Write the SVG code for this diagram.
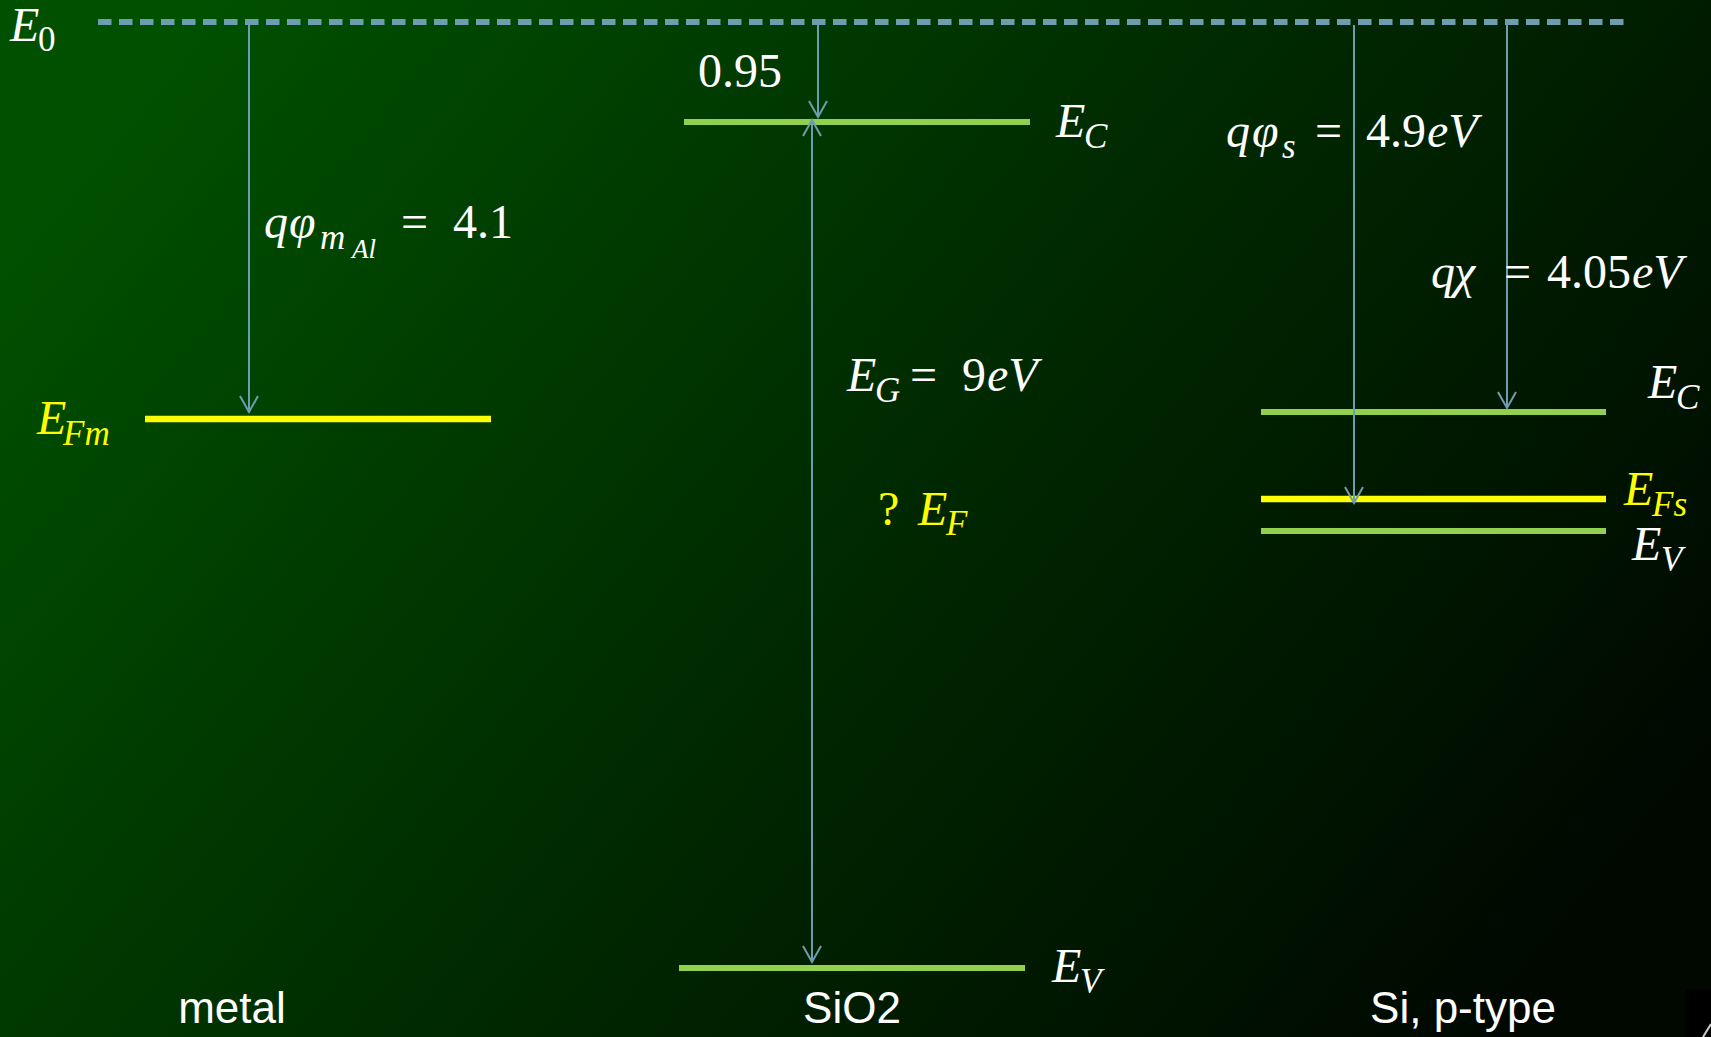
<svg xmlns="http://www.w3.org/2000/svg" width="1711" height="1037" viewBox="0 0 1711 1037">
<defs>
<linearGradient id="bg" x1="0" y1="0.25" x2="1" y2="0.75">
<stop offset="0" stop-color="#005000"/>
<stop offset="0.5" stop-color="#002a00"/>
<stop offset="1" stop-color="#000800"/>
</linearGradient>
<marker id="arr" viewBox="0 0 20 20" refX="18" refY="10" markerWidth="20" markerHeight="20" markerUnits="userSpaceOnUse" orient="auto-start-reverse">
<path d="M2,1 L18,10 L2,19" fill="none" stroke="#6e9db0" stroke-width="2"/>
</marker>
<style>
.m{font-family:"Liberation Serif","DejaVu Serif",serif;font-style:italic;font-size:48px;fill:#ffffff}
.n{font-style:normal}
.s{font-size:35px}
.ss{font-size:27px}
.y{fill:#ffff00}
.lbl{font-family:"Liberation Sans","Open Sans",sans-serif;font-size:44px;fill:#ffffff;text-anchor:middle}
.arrow{stroke:#6e9db0;stroke-width:2;fill:none}
.band{stroke:#92d050;stroke-width:6}
.fermi{stroke:#ffff00;stroke-width:6.5}
</style>
</defs>
<rect x="0" y="0" width="1711" height="1037" fill="url(#bg)"/>
<rect x="1686" y="990" width="25" height="47" fill="#000000"/>
<line x1="1703" y1="1037" x2="1711" y2="1024" stroke="#cccccc" stroke-width="2"/>

<g id="vacuum-level">
<line x1="98" y1="22" x2="1629" y2="22" stroke="#6e9db0" stroke-width="6" stroke-dasharray="13.5 7.5"/>
<text class="m" x="10" y="41">E<tspan class="n s" x="38" y="51">0</tspan></text>
</g>

<g id="metal">
<line class="fermi" x1="145" y1="419" x2="491" y2="419"/>
<text class="m y" x="37" y="434">E<tspan class="s" x="63" y="445">Fm</tspan></text>
<text class="lbl" x="232" y="1023">metal</text>
</g>

<g id="sio2">
<line class="band" x1="684" y1="122" x2="1030" y2="122"/>
<line class="band" x1="679" y1="968" x2="1025" y2="968"/>
<text class="m" x="1056" y="137">E<tspan class="s" x="1084" y="148">C</tspan></text>
<text class="m" x="1052" y="982">E<tspan class="s" x="1080" y="993">V</tspan></text>
<text class="m n" x="698" y="87">0.95</text>
<text class="m" x="847" y="391">E<tspan class="s" x="875" y="402">G</tspan><tspan class="n" x="910" y="391">=</tspan><tspan class="n" x="962" y="391">9</tspan><tspan x="987" y="391">eV</tspan></text>
<text class="m y" x="878" y="525"><tspan class="n">?</tspan><tspan x="918">E</tspan><tspan class="s" x="946" y="535">F</tspan></text>
<text class="lbl" x="852" y="1023">SiO2</text>
</g>

<g id="si">
<line class="band" x1="1261" y1="412" x2="1606" y2="412"/>
<line class="fermi" x1="1261" y1="499" x2="1606" y2="499"/>
<line class="band" x1="1261" y1="531" x2="1606" y2="531"/>
<text class="m" x="1648" y="398">E<tspan class="s" x="1676" y="409">C</tspan></text>
<text class="m y" x="1624" y="505">E<tspan class="s" x="1652" y="516">Fs</tspan></text>
<text class="m" x="1632" y="560">E<tspan class="s" x="1661" y="571">V</tspan></text>
<text class="lbl" x="1463" y="1023">Si, p-type</text>
</g>

<g id="connectors">
<line class="arrow" x1="249" y1="25" x2="249" y2="412" marker-end="url(#arr)"/>
<line class="arrow" x1="818" y1="25" x2="818" y2="117" marker-end="url(#arr)"/>
<line class="arrow" x1="812" y1="120" x2="812" y2="962" marker-start="url(#arr)" marker-end="url(#arr)"/>
<line class="arrow" x1="1354" y1="25" x2="1354" y2="503" marker-end="url(#arr)"/>
<line class="arrow" x1="1507" y1="25" x2="1507" y2="408" marker-end="url(#arr)"/>
</g>

<g id="labels">
<text class="m" x="264" y="238">q<tspan x="289">φ</tspan><tspan class="s" x="320" y="249">m</tspan><tspan class="ss" x="352" y="258">Al</tspan><tspan class="n" x="401" y="238">=</tspan><tspan class="n" x="453" y="238">4.1</tspan></text>
<text class="m" x="1226" y="147">q<tspan x="1252">φ</tspan><tspan class="s" x="1282" y="158">s</tspan><tspan class="n" x="1315" y="147">=</tspan><tspan class="n" x="1366" y="147">4.9</tspan><tspan x="1427" y="147">eV</tspan></text>
<text class="m" x="1431" y="288">q<tspan x="1454">χ</tspan><tspan class="n" x="1504" y="288">=</tspan><tspan class="n" x="1547" y="288">4.05</tspan><tspan x="1632" y="288">eV</tspan></text>
</g>
</svg>
